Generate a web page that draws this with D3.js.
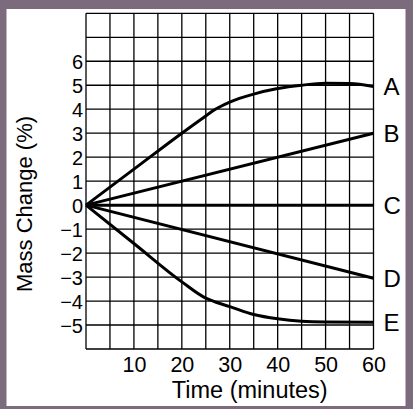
<!DOCTYPE html>
<html>
<head>
<meta charset="utf-8">
<script src="https://cdn.jsdelivr.net/npm/d3@7"></script>
<style>
html,body{margin:0;padding:0;background:#7c6b7c;overflow:hidden;}
svg{display:block;}
text{font-family:"Liberation Sans",Arial,sans-serif;fill:#000;}
</style>
</head>
<body>
<script>
// ---- data ----
const seriesNames = ["A", "B", "C", "D", "E"];
const timeA = [0, 10, 20, 25, 27, 30, 35, 40, 45, 50, 55, 60];
const massA = [0, 1.5, 3.0, 3.72, 4.0, 4.3, 4.63, 4.86, 5.0, 5.08, 5.07, 4.95];
const timeB = [0, 60];
const massB = [0, 3.0];
const timeC = [0, 60];
const massC = [0, 0];
const timeD = [0, 60];
const massD = [0, -3.05];
const timeE = [0, 10, 20, 25, 27, 30, 35, 40, 45, 50, 60];
const massE = [0, -1.6, -3.2, -3.88, -4.04, -4.23, -4.56, -4.74, -4.84, -4.87, -4.88];
const xTickValues = [10, 20, 30, 40, 50, 60];
const yTickValues = [-5, -4, -3, -2, -1, 0, 1, 2, 3, 4, 5, 6];
const xLabel = "Time (minutes)";
const yLabel = "Mass Change (%)";

const W = 413, H = 409;
const svg = d3.select("body").append("svg").attr("width", W).attr("height", H);

// white panel
svg.append("rect").attr("x", 6.5).attr("y", 9).attr("width", 399).attr("height", 397).attr("fill", "#fff");

const x = d3.scaleLinear().domain([0, 60]).range([86, 373.5]);
const y = d3.scaleLinear().domain([-6, 8]).range([349, 13.3]);

// grid
const g = svg.append("g");
g.selectAll("line.v").data(d3.range(0, 61, 5)).enter().append("line")
  .attr("x1", d => x(d)).attr("x2", d => x(d))
  .attr("y1", y(-6)).attr("y2", y(8))
  .attr("stroke", "#000").attr("stroke-width", 1.3);
g.selectAll("line.h").data(d3.range(-6, 9, 1)).enter().append("line")
  .attr("x1", x(0)).attr("x2", x(60))
  .attr("y1", d => y(d)).attr("y2", d => y(d))
  .attr("stroke", "#000").attr("stroke-width", 1.3);

// axes labels (ticks)
const xAxis = svg.append("g").attr("transform", `translate(0,${y(-6)})`)
  .call(d3.axisBottom(x).tickValues(xTickValues).tickSize(0).tickPadding(6));
xAxis.select(".domain").remove();
xAxis.selectAll("text").style("font-size", "21.5px").attr("font-family", "Liberation Sans, Arial, sans-serif").attr("fill", "#000").attr("dy", "0.71em").attr("y", 7.5);

const yAxis = svg.append("g").attr("transform", `translate(${x(0)},0)`)
  .call(d3.axisLeft(y).tickValues(yTickValues).tickSize(0).tickPadding(3)
    .tickFormat(d => d < 0 ? "\u2212" + Math.abs(d) : String(d)));
yAxis.select(".domain").remove();
yAxis.selectAll("text").style("font-size", "20px").attr("font-family", "Liberation Sans, Arial, sans-serif").attr("fill", "#000").attr("dy", "0.36em");

// data lines
const series = [
  {name: "A", t: timeA, m: massA},
  {name: "B", t: timeB, m: massB},
  {name: "C", t: timeC, m: massC},
  {name: "D", t: timeD, m: massD},
  {name: "E", t: timeE, m: massE}
];
const line = d3.line().x(d => x(d[0])).y(d => y(d[1])).curve(d3.curveMonotoneX);
series.forEach(s => {
  const pts = s.t.map((t, i) => [t, s.m[i]]);
  svg.append("path").datum(pts).attr("d", line)
    .attr("fill", "none").attr("stroke", "#000").attr("stroke-width", 3)
    .attr("stroke-linejoin", "round");
  svg.append("text").attr("x", x(60) + 10).attr("y", y(s.m[s.m.length - 1]))
    .attr("dy", "0.36em").style("font-size", "24px").text(s.name);
});

// axis titles
svg.append("text").attr("x", (x(0) + x(60)) / 2 + 20).attr("y", 398)
  .attr("text-anchor", "middle").style("font-size", "23.5px").text(xLabel);
svg.append("text").attr("transform", `translate(31.5,${204}) rotate(-90)`)
  .attr("text-anchor", "middle").style("font-size", "22px").text(yLabel);
</script>
</body>
</html>
